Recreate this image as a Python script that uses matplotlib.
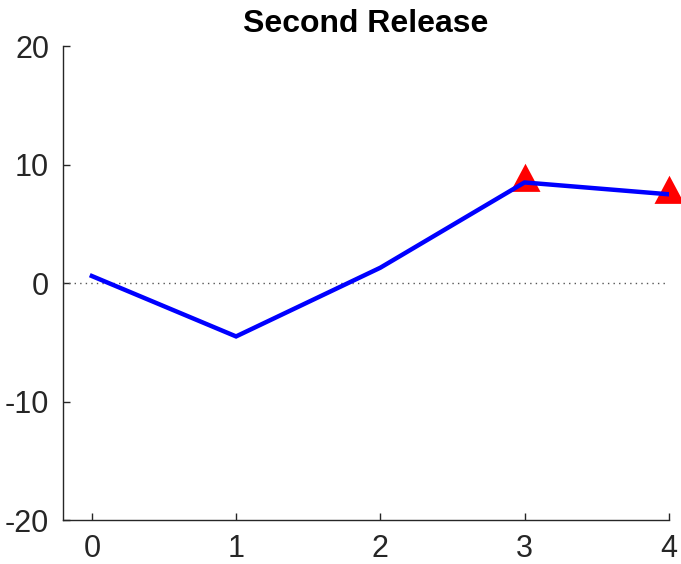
import matplotlib.pyplot as plt

plt.rcParams['font.family'] = ['Liberation Sans', 'DejaVu Sans']
plt.rcParams['axes.unicode_minus'] = False

x = [0, 1, 2, 3, 4]
y = [0.6, -4.5, 1.3, 8.5, 7.5]
mark_x = [3, 4]
mark_y = [8.5, 7.5]
title = 'Second Release'

# triangle centred on its centroid, like the reference markers
tri = [(0, 2), (-1.6, -1), (1.6, -1), (0, 2)]

fig = plt.figure(figsize=(6.81, 5.64), dpi=100)
ax = fig.add_axes([0.0925, 0.078, 0.8895, 0.840])

ax.axhline(0, color='#555555', linestyle=(0, (1, 3)), linewidth=1)
ax.plot(x, y, color='#0000ff', linewidth=3.2, solid_joinstyle='miter', zorder=3)
ax.plot(mark_x, mark_y, linestyle='none', marker=tri, markersize=27,
        markeredgewidth=0, color='#ff0000', clip_on=False, zorder=2)

ax.set_xlim(-0.2, 4)
ax.set_ylim(-20, 20)
ax.set_xticks(x)
ax.set_yticks([-20, -10, 0, 10, 20])
ax.spines['top'].set_visible(False)
ax.spines['right'].set_visible(False)
for s in ('left', 'bottom'):
    ax.spines[s].set_color('#262626')
    ax.spines[s].set_linewidth(1)
ax.tick_params(direction='in', length=5, width=1, color='#262626',
               labelcolor='#262626', labelsize=22)
ax.tick_params(axis='x', pad=10)
ax.tick_params(axis='y', pad=10)
ax.set_title(title, fontsize=23, fontweight='bold', pad=10)

fig.savefig('out.png', dpi=100)
